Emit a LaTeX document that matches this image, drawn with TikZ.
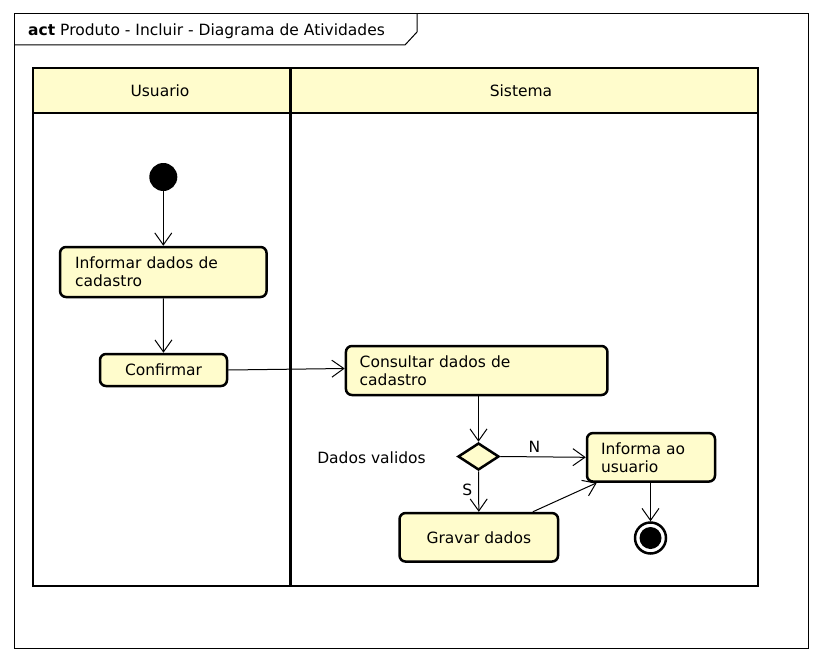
\documentclass[tikz,border=0pt]{standalone}
\usepackage{fontspec}
\setmainfont{DejaVu Sans}
\usetikzlibrary{arrows.meta,shapes.geometric}
\definecolor{actfill}{RGB}{255,252,204}
\tikzset{
  lane/.style={draw=black,line width=2.8pt},
  actbox/.style={draw=black,line width=2.5pt,fill=actfill,rounded corners=6pt,
    font=\fontsize{15.5}{18}\selectfont,inner sep=0pt},
  flow/.style={draw=black,line width=1pt,-{Straight Barb[length=12pt,width=17pt]}},
  lbl/.style={font=\fontsize{15.5}{18}\selectfont,inner sep=0pt}
}
\begin{document}
\begin{tikzpicture}[x=1pt,y=-1pt]
\useasboundingbox (0,0) rectangle (822,661);
\fill[white] (0,0) rectangle (822,661);
% frame
\draw[line width=1pt] (14,14) rectangle (808,648);
\draw[line width=1pt] (14,45) -- (405,45) -- (417,32) -- (417,14);
\node[lbl,anchor=base west] (title) at (28,36) {\textbf{act} Produto - Incluir - Diagrama de Atividades};
% swimlanes
\fill[actfill] (33,68) rectangle (758,113);
\draw[lane] (33,68) rectangle (758,586);
\draw[lane] (33,113) -- (758,113);
\draw[lane] (290.5,68) -- (290.5,586);
\node[lbl] (lu) at (160,91) {Usuario};
\node[lbl] (ls) at (521,91) {Sistema};
% nodes
\node[circle,fill=black,minimum size=28pt,inner sep=0pt] (start) at (163.3,177) {};
\node[actbox,minimum width=206.5pt,minimum height=50pt,text width=176.5pt,align=left] (inf) at (163.3,272) {Informar dados de\\cadastro};
\node[actbox,minimum width=127pt,minimum height=32pt] (conf) at (163.5,370) {Confirmar};
\node[actbox,minimum width=261.5pt,minimum height=49pt,text width=234pt,align=left] (cons) at (476.7,370.5) {Consultar dados de\\cadastro};
\node[diamond,draw=black,line width=2.5pt,fill=actfill,inner sep=0pt,minimum width=41pt,minimum height=27pt] (dec) at (478.5,456.5) {};
\node[actbox,minimum width=128pt,minimum height=48.5pt,text width=100pt,align=left] (infu) at (651,457.3) {Informa ao\\usuario};
\node[actbox,minimum width=158.5pt,minimum height=48.5pt] (grav) at (478.8,537.3) {Gravar dados};
\node[circle,draw=black,line width=2.5pt,fill=white,minimum size=31pt,inner sep=0pt] (fin) at (650.5,538) {};
\node[circle,fill=black,minimum size=22pt,inner sep=0pt] (fininner) at (fin.center) {};
\node[lbl] (dv) at (371.5,457.5) {Dados validos};
% connectors
\draw[flow] (start) -- (inf);
\draw[flow] (inf) -- (conf);
\draw[flow] (conf.east) -- ([yshift=2pt]cons.west);
\draw[flow] (cons.south -| dec.north) -- (dec.north);
\draw[flow] (dec.east) -- node[lbl,above=4pt,pos=0.4] (nlab) {N} (infu.west);
\draw[flow] (dec.south) -- node[lbl,left=6pt,pos=0.45] (slab) {S} (grav.north);
\coordinate (gtop) at ([xshift=54pt]grav.north);
\coordinate (ibl) at ([xshift=11pt]infu.south west);
\draw[flow] (gtop) -- (ibl);
\draw[flow] (infu.south -| fin.north) -- (fin.north);
\end{tikzpicture}
\end{document}
